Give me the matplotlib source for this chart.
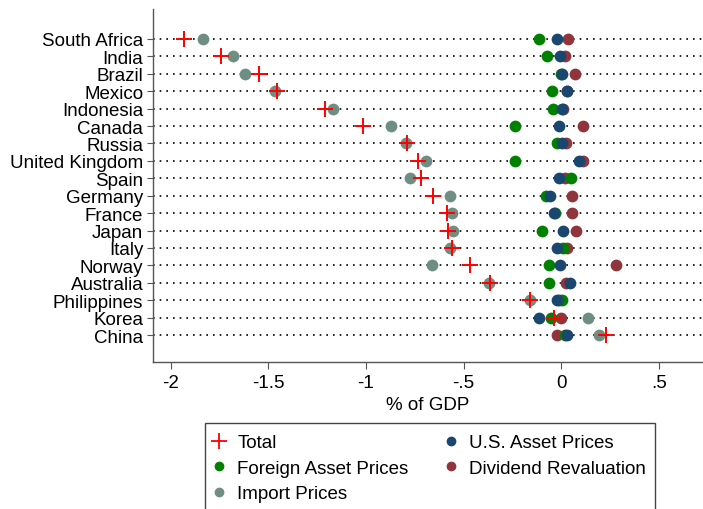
import numpy as np
import matplotlib.pyplot as plt
from matplotlib.lines import Line2D
from matplotlib.patches import Rectangle

plt.rcParams['font.family'] = ['Liberation Sans', 'DejaVu Sans']

countries = ["South Africa", "India", "Brazil", "Mexico", "Indonesia", "Canada",
             "Russia", "United Kingdom", "Spain", "Germany", "France", "Japan",
             "Italy", "Norway", "Australia", "Philippines", "Korea", "China"]

total = [-1.932, -1.744, -1.548, -1.454, -1.210, -1.016, -0.789, -0.735, -0.718,
         -0.655, -0.585, -0.578, -0.561, -0.469, -0.365, -0.159, -0.039, 0.230]
foreign = [-0.112, -0.072, 0.000, -0.048, -0.043, -0.239, -0.022, -0.235, 0.051,
           -0.080, -0.031, -0.100, 0.009, -0.065, -0.063, 0.005, -0.051, 0.020]
imports = [-1.835, -1.680, -1.620, -1.463, -1.170, -0.871, -0.793, -0.694, -0.774,
           -0.568, -0.558, -0.554, -0.568, -0.662, -0.372, -0.159, 0.135, 0.191]
us_assets = [-0.022, -0.007, 0.003, 0.032, 0.003, -0.010, 0.005, 0.092, -0.010,
             -0.058, -0.039, 0.007, -0.019, -0.008, 0.043, -0.022, -0.116, 0.032]
dividend = [0.037, 0.017, 0.073, 0.030, 0.010, 0.111, 0.026, 0.111, 0.020,
            0.055, 0.056, 0.075, 0.029, 0.278, 0.026, -0.010, 0.000, -0.019]

c_total = "#ff0000"
c_foreign = "#008000"
c_import = "#6e8e84"
c_us = "#1a476f"
c_div = "#90353b"

y = np.arange(len(countries))
fs = 13.5

fig = plt.figure(figsize=(7.03, 5.10), dpi=100)
ax = fig.add_axes([153 / 703, 1 - 363 / 510, 1 - 153 / 703, (363 - 10) / 510])

for yi in y:
    ax.axhline(yi, color="black", lw=1.2, ls=(0, (1, 3)), zorder=1)

ms = 72
ax.scatter(dividend, y, s=ms, color=c_div, zorder=2, linewidths=0)
ax.scatter(foreign, y, s=ms, color=c_foreign, zorder=3, linewidths=0)
ax.scatter(us_assets, y, s=ms, color=c_us, zorder=4, linewidths=0)
ax.scatter(imports, y, s=ms, color=c_import, zorder=5, linewidths=0)
ax.scatter(total, y, s=140, color=c_total, marker="+", zorder=6, linewidths=1.4)

ax.set_xlim(-2.09, 0.726)
ax.set_ylim(17 + 1.55, -1.72)
ax.set_yticks(y)
ax.set_yticklabels(countries, fontsize=fs)
ax.set_xticks([-2, -1.5, -1, -0.5, 0, 0.5])
ax.set_xticklabels(["-2", "-1.5", "-1", "-.5", "0", ".5"], fontsize=fs)
ax.set_xlabel("% of GDP", fontsize=fs, labelpad=3)
ax.tick_params(axis="x", length=5, color="#555555", pad=4)
ax.tick_params(axis="y", length=4, color="#555555", pad=3)
for s in ["top", "right"]:
    ax.spines[s].set_visible(False)
for s in ["left", "bottom"]:
    ax.spines[s].set_color("#555555")
    ax.spines[s].set_linewidth(1.0)

handles = [
    Line2D([], [], ls="none", marker="+", color=c_total, markersize=11, mew=1.3),
    Line2D([], [], ls="none", marker="o", color=c_foreign, markersize=6),
    Line2D([], [], ls="none", marker="o", color=c_import, markersize=6),
    Line2D([], [], ls="none", marker="o", color=c_us, markersize=6),
    Line2D([], [], ls="none", marker="o", color=c_div, markersize=6),
]
labels = ["Total", "Foreign Asset Prices", "Import Prices",
          "U.S. Asset Prices", "Dividend Revaluation"]
fig.legend(handles, labels, ncol=2, loc="upper left",
           bbox_to_anchor=(210 / 703, 1 - 435 / 510), fontsize=fs,
           frameon=False, handlelength=1.0, handletextpad=0.46,
           columnspacing=1.75, labelspacing=0.45, borderpad=0, borderaxespad=0)
# legend box runs off the bottom of the figure, as in the original
fig.patches.append(Rectangle((205 / 703, -0.05), 450 / 703, 0.05 + 86 / 510,
                             transform=fig.transFigure, fill=False,
                             edgecolor="#444444", lw=1.0))

fig.savefig("out.png", dpi=100)
